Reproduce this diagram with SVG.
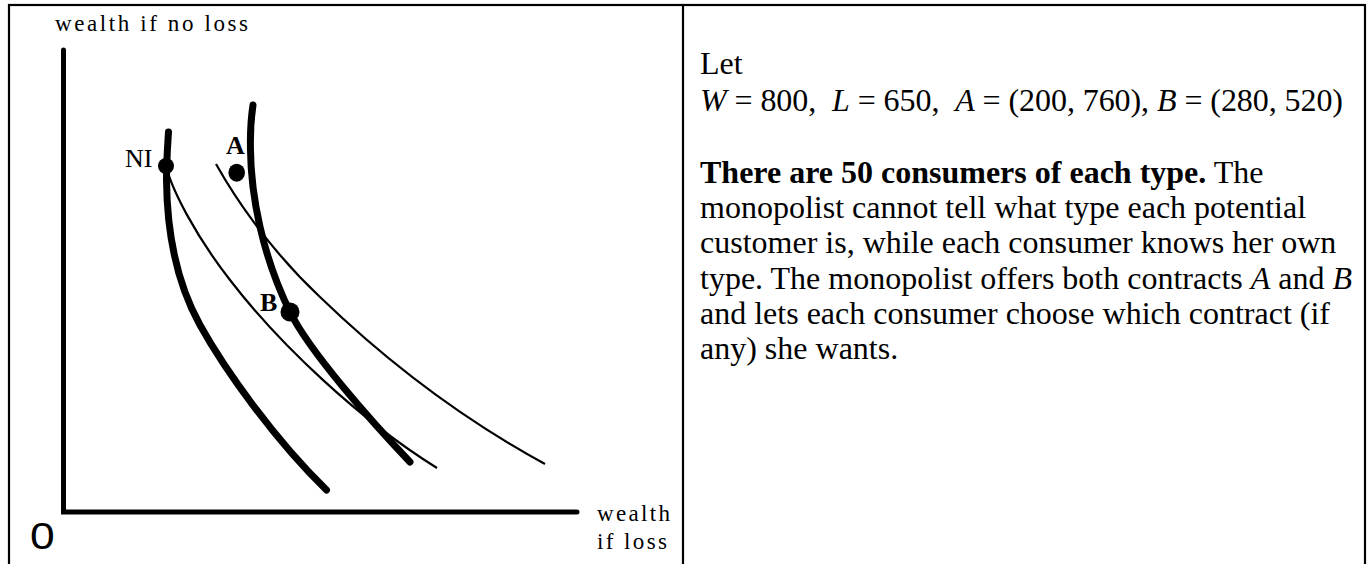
<svg xmlns="http://www.w3.org/2000/svg" width="1371" height="564" viewBox="0 0 1371 564">
<style>
.frame{fill:none;stroke:#000;stroke-width:2.2}
.axis{fill:none;stroke:#000;stroke-width:5;stroke-linecap:round;stroke-linejoin:miter}
.thick{fill:none;stroke:#000;stroke-width:7;stroke-linecap:round;stroke-linejoin:round}
.thin{fill:none;stroke:#000;stroke-width:2.2;stroke-linecap:butt}
.dot{fill:#000}
.lbl{font-family:"Liberation Serif","Times New Roman",serif;font-size:23px;fill:#000}
.ni{font-family:"Liberation Serif","Times New Roman",serif;font-size:26px;fill:#000}
.pt{font-family:"Liberation Serif","Times New Roman",serif;font-size:26px;font-weight:bold;fill:#000}
.zero{font-family:"Liberation Sans",Arial,sans-serif;font-size:37px;fill:#000}
.body{font-family:"Liberation Serif","Times New Roman",serif;font-size:32px;fill:#000;white-space:pre}
.b{font-weight:bold}
.i{font-style:italic}
</style>
<rect width="1371" height="564" fill="#fff"/>
<g id="frame">
<rect class="frame" x="9" y="5" width="1356" height="580"/>
<line class="frame" x1="683" y1="5" x2="683" y2="570"/>
</g>
<g id="axes">
<path class="axis" d="M63.5,50 V512 H577"/>
<text class="lbl" x="55" y="31" textLength="193">wealth if no loss</text>
<text class="lbl" x="597" y="521" textLength="73">wealth</text>
<text class="lbl" x="597" y="549" textLength="70">if loss</text>
<text class="zero" transform="translate(30,549) scale(1.2,1)" x="0" y="0">0</text>
</g>
<g id="connectors">
<path id="curve-ni-thick" class="thick" d="M168.5,132 C167.5,148 166.5,160 166.5,180 C167,230 175,280 200,325 C225,370 275,440 326.5,490"/>
<path id="curve-ni-thin" class="thin" d="M166,166 C172,190 195,235 230,280 C280,345 360,420 437,468"/>
<path id="curve-upper-thin" class="thin" d="M216,164 C235,198 270,250 320,297 C380,355 455,415 545,464"/>
<path id="curve-a-thick" class="thick" d="M253,105 C251,118 250,130 250.5,150 C251,195 262,255 290,312 C310,352 370,420 410,462"/>
</g>
<g id="node-NI">
<circle class="dot" cx="166" cy="166" r="8"/>
<text class="ni" x="125" y="167">NI</text>
</g>
<g id="node-A">
<ellipse class="dot" cx="236.7" cy="172.7" rx="8.3" ry="9"/>
<text class="pt" x="226" y="154">A</text>
</g>
<g id="node-B">
<circle class="dot" cx="290" cy="312" r="9.5"/>
<text class="pt" x="260" y="311">B</text>
</g>
<g id="problem-text" class="body">
<text x="700" y="74">Let</text>
<text x="700" y="111" xml:space="preserve" textLength="643"><tspan class="i">W</tspan> = 800,  <tspan class="i">L</tspan> = 650,  <tspan class="i">A</tspan> = (200, 760), <tspan class="i">B</tspan> = (280, 520)</text>
<text x="700" y="183"><tspan class="b">There are 50 consumers of each type.</tspan> The</text>
<text x="700" y="218.2">monopolist cannot tell what type each potential</text>
<text x="700" y="253.4">customer is, while each consumer knows her own</text>
<text x="700" y="288.6">type. The monopolist offers both contracts <tspan class="i">A</tspan> and <tspan class="i">B</tspan></text>
<text x="700" y="323.8">and lets each consumer choose which contract (if</text>
<text x="700" y="359">any) she wants.</text>
</g>
</svg>
